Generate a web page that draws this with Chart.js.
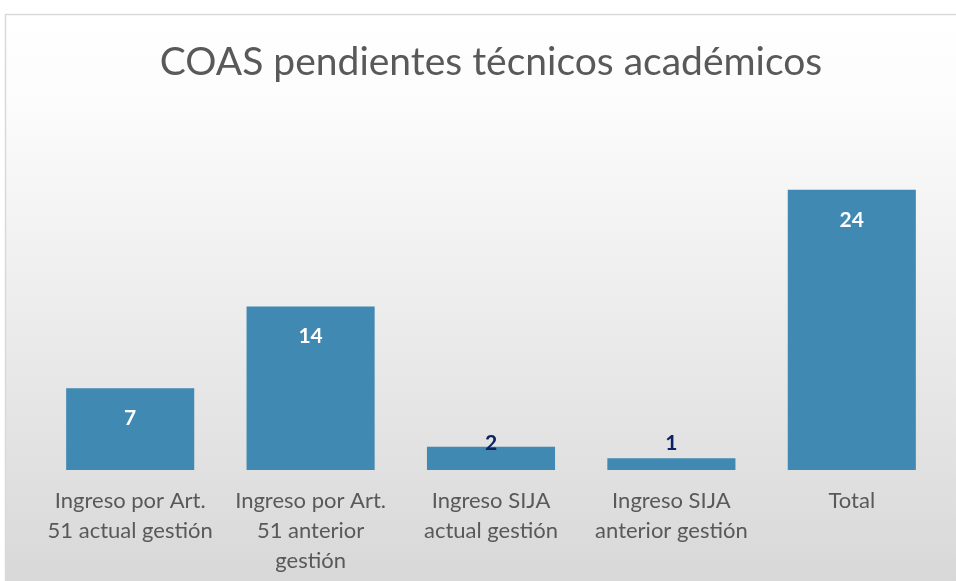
<!DOCTYPE html>
<html>
<head>
<meta charset="utf-8">
<script src="https://cdn.jsdelivr.net/npm/chart.js@4/dist/chart.umd.min.js"></script>
<style>
html,body{margin:0;padding:0;background:#fff;}
#wrap{width:956px;height:581px;position:relative;}
</style>
</head>
<body>
<div id="wrap"><canvas id="c" width="956" height="581"></canvas></div>
<script>
const chartTitle = "COAS pendientes técnicos académicos";
const categories = [
  ["Ingreso por Art.", "51 actual gestión"],
  ["Ingreso por Art.", "51 anterior", "gestión"],
  ["Ingreso SIJA", "actual gestión"],
  ["Ingreso SIJA", "anterior gestión"],
  ["Total"]
];
const values = [7, 14, 2, 1, 24];
const yMax = 30;

const frameBg = {
  id: 'frameBg',
  beforeDraw(chart) {
    const ctx = chart.ctx;
    const W = chart.width, H = chart.height;
    ctx.save();
    const g = ctx.createLinearGradient(0, 14, 0, H);
    g.addColorStop(0, '#ffffff');
    g.addColorStop(0.15, '#fcfcfc');
    g.addColorStop(1, '#d8d8d8');
    ctx.fillStyle = g;
    ctx.fillRect(5, 14, W - 5, H - 14);
    ctx.strokeStyle = '#d9d9d9';
    ctx.lineWidth = 1.5;
    ctx.beginPath();
    ctx.moveTo(5.5, H);
    ctx.lineTo(5.5, 14.5);
    ctx.lineTo(W, 14.5);
    ctx.stroke();
    ctx.restore();
  }
};

const barLabels = {
  id: 'barLabels',
  afterDatasetsDraw(chart) {
    const ctx = chart.ctx;
    const meta = chart.getDatasetMeta(0);
    const base = chart.scales.y.getPixelForValue(0);
    ctx.save();
    ctx.font = 'bold 21px Lato, "Open Sans", sans-serif';
    ctx.textAlign = 'center';
    ctx.textBaseline = 'middle';
    meta.data.forEach((bar, i) => {
      const top = bar.y;
      const h = base - top;
      let y, color;
      if (h > 55) { y = top + 30; color = '#ffffff'; }
      else { y = Math.min(top, base - 27); color = '#0a2463'; }
      ctx.fillStyle = color;
      ctx.fillText(String(values[i]), bar.x, y);
    });
    ctx.restore();
  }
};

new Chart(document.getElementById('c'), {
  type: 'bar',
  data: {
    labels: categories,
    datasets: [{
      data: values,
      backgroundColor: '#4089b2',
      borderWidth: 0,
      categoryPercentage: 1,
      barPercentage: 0.71
    }]
  },
  options: {
    responsive: false,
    animation: false,
    layout: { padding: { left: 40, right: 14, top: 20, bottom: 6 } },
    plugins: {
      legend: { display: false },
      tooltip: { enabled: false },
      title: {
        display: true,
        text: chartTitle,
        color: '#595959',
        font: { family: 'Lato, "Open Sans", sans-serif', size: 39, weight: 'normal', lineHeight: 1.2 },
        padding: { top: 19, bottom: 34 }
      }
    },
    scales: {
      x: {
        grid: { display: false, drawTicks: false },
        border: { display: false },
        afterFit(scale) { scale.height = 105; },
        ticks: {
          color: '#595959',
          padding: 16,
          maxRotation: 0,
          autoSkip: false,
          font: { family: 'Lato, "Open Sans", sans-serif', size: 22, lineHeight: 1.364 }
        }
      },
      y: {
        display: false,
        min: 0,
        max: yMax
      }
    }
  },
  plugins: [frameBg, barLabels]
});
</script>
</body>
</html>
